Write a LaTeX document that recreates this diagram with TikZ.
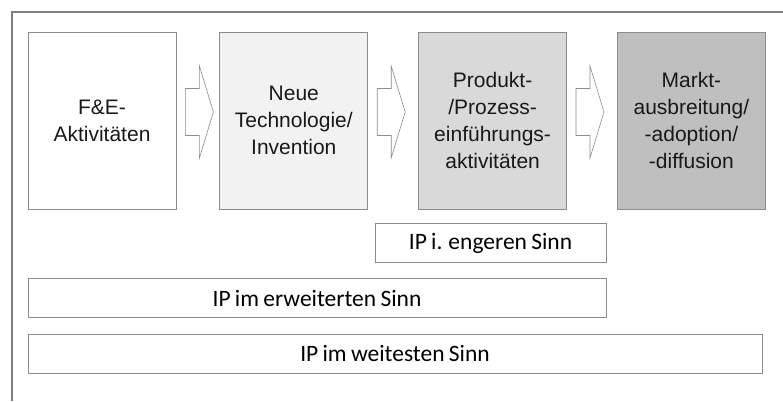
\documentclass[tikz,border=0pt]{standalone}
\usepackage{fontspec}
\setmainfont{Liberation Sans}
\newfontfamily\ipfont[WordSpace=0.8]{Carlito}
\usetikzlibrary{positioning,calc}

\definecolor{boxline}{HTML}{8C8C8C}
\definecolor{frameline}{HTML}{7F7F7F}
\definecolor{greyA}{HTML}{F2F2F2}
\definecolor{greyB}{HTML}{D9D9D9}
\definecolor{greyC}{HTML}{BFBFBF}

\begin{document}
\begin{tikzpicture}[x=1pt, y=1pt, node distance={50pt},
    phase/.style = {draw=boxline, line width=0.8pt, inner sep=0pt, align=center,
      minimum width=148pt, minimum height=177pt, text=black!90,
      font=\fontsize{21}{26.7}\selectfont},
    ipbox/.style = {draw=boxline, line width=0.8pt, fill=white, inner sep=0pt,
      minimum height=39pt, font=\ipfont\fontsize{23.5}{26}\selectfont},
    blockarrow/.style = {draw=boxline, fill=white, line width=0.6pt, line join=miter}]
        \useasboundingbox (0,0) rectangle (783,-401);

        % Frame (open to the right and bottom)
        \draw[frameline, line width=1.2pt] (12,-401) -- (12,-12) -- (783,-12);

        % Drawing the phases
        \node[phase] (fe) at (102,-120.5) {F\&E-\\Aktivitäten};
        \node[phase, fill=greyA, right=43pt of fe] (tech) {Neue\\Technologie/\\Invention};
        \node[phase, fill=greyB, right=of tech] (prod) {Produkt-\\/Prozess-\\einführungs-\\aktivitäten};
        \node[phase, fill=greyC, right=of prod] (markt) {Markt-\\ausbreitung/\\-adoption/\\-diffusion};

        % Block arrows between the phases
        \foreach \from in {fe, tech, prod}{
            \draw[blockarrow] ($(\from.east)+(9,32)$) -- ++(14,0) -- ++(0,22.5)
              -- ++(14,-46) -- ++(-14,-46) -- ++(0,22.5) -- ++(-14,0) -- cycle;
          }

        % Scopes of IP
        \node[ipbox, minimum width=231pt] (engeren) at (490.5,-243) {IP i. engeren Sinn};
        \node[ipbox, minimum width=578pt] (erweitert) at (317,-298) {IP im erweiterten Sinn};
        \node[ipbox, minimum width=734pt] (weitest) at (395,-353.5) {IP im weitesten Sinn};
      \end{tikzpicture}
\end{document}
